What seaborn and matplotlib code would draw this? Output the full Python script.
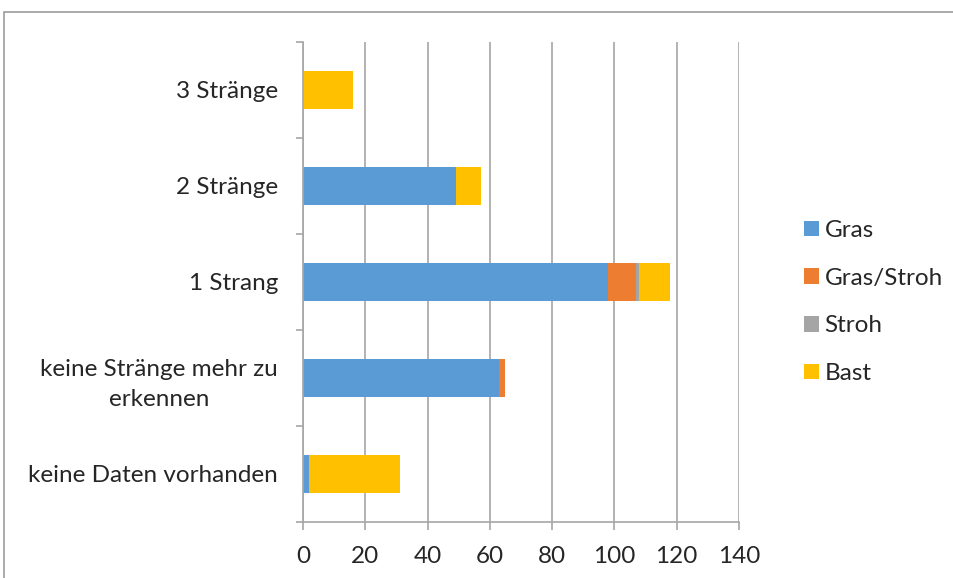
import matplotlib
matplotlib.use("Agg")
import matplotlib.pyplot as plt
from matplotlib.patches import Rectangle, Patch
import seaborn as sns
import pandas as pd
import numpy as np

categories = ["3 Stränge", "2 Stränge", "1 Strang",
              "keine Stränge mehr zu\nerkennen", "keine Daten vorhanden"]
series = ["Gras", "Gras/Stroh", "Stroh", "Bast"]
gras = [0, 49, 98, 63, 2]
gras_stroh = [0, 0, 9, 2, 0]
stroh = [0, 0, 1, 0, 0]
bast = [16, 8, 10, 0, 29]
colors = ["#5B9BD5", "#ED7D31", "#A5A5A5", "#FFC000"]
xticks = [0, 20, 40, 60, 80, 100, 120, 140]

sns.set_theme(style="white")
plt.rcParams["font.family"] = ["Lato", "DejaVu Sans"]
FS = 17.5

fig = plt.figure(figsize=(9.54, 5.78), dpi=100)
ax = fig.add_axes([303 / 954, 56 / 578, 436 / 954, 480 / 578])

values = np.array([gras, gras_stroh, stroh, bast], dtype=float)
cum = np.cumsum(values, axis=0)

# stacked bars: draw running totals from the outermost segment inward
for i in reversed(range(len(series))):
    df = pd.DataFrame({"cat": categories, "val": cum[i]})
    sns.barplot(data=df, y="cat", x="val", orient="h", color=colors[i],
                width=0.4, saturation=1, ax=ax, order=categories,
                edgecolor="none", linewidth=0)

ax.set_xlim(0, 140)
ax.set_ylim(len(categories) - 0.5, -0.5)
ax.set_xticks(xticks)
ax.set_xticklabels([str(t) for t in xticks], fontsize=FS)
ax.set_xlabel("")
ax.set_ylabel("")

grid_c = "#A6A6A6"
ax.grid(axis="x", color=grid_c, linewidth=1.2)
ax.set_axisbelow(True)
for s in ["top", "right"]:
    ax.spines[s].set_visible(False)
for s in ["left", "bottom"]:
    ax.spines[s].set_color(grid_c)
    ax.spines[s].set_linewidth(1.2)

# category labels at bar centres, tick marks at category boundaries
ax.set_yticks(range(len(categories)))
ax.set_yticklabels(categories, fontsize=FS, multialignment="center",
                   linespacing=1.5)
ax.tick_params(axis="y", length=0, pad=18)
ax.set_yticks(np.arange(-0.5, len(categories), 1), minor=True)
ax.tick_params(axis="y", which="minor", length=5, color=grid_c, width=1.2,
               direction="out", left=True)
ax.tick_params(axis="x", length=6, color=grid_c, width=1.2, direction="out",
               bottom=True, pad=11)

handles = [Patch(facecolor=c, edgecolor="none", label=s) for s, c in zip(series, colors)]
fig.legend(handles=handles, loc="center left", bbox_to_anchor=(804 / 954, 1 - 302 / 578),
           frameon=False, fontsize=FS, handlelength=0.6, handleheight=0.6,
           handletextpad=0.25, labelspacing=1.1, borderpad=0, borderaxespad=0)

# chart frame
fig.patches.append(Rectangle((4 / 954, -0.05), 1.1, 1 - 12 / 578 + 0.05,
                             transform=fig.transFigure, fill=False,
                             edgecolor="#9C9C9C", linewidth=1.2))

fig.savefig("out.png", dpi=100, facecolor="white")
